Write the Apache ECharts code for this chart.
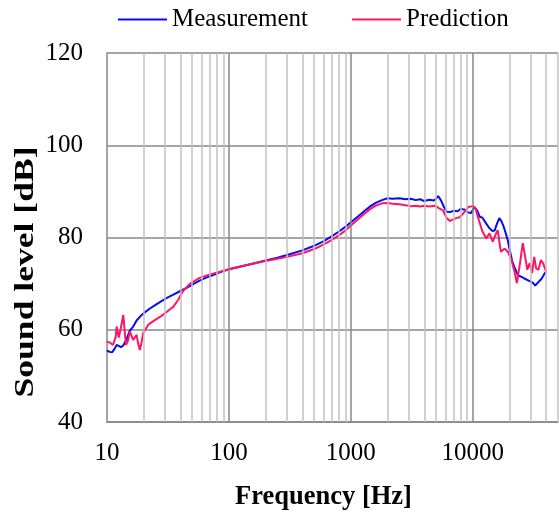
<!DOCTYPE html>
<html>
<head>
<meta charset="utf-8">
<script src="https://cdn.jsdelivr.net/npm/echarts@6/dist/echarts.min.js"></script>
<style>
  html, body { margin: 0; padding: 0; background: #fff; }
  #chart { width: 559px; height: 517px; }
</style>
</head>
<body>
<div id="chart"></div>
<script>
// measured curve
var measFreq = [10, 10.5, 11, 11.5, 12, 12.5, 13, 13.6, 14.5, 15.4, 16.4, 17.5, 18.6, 20, 22.5, 25, 28, 31, 35, 40,
  45, 50, 57, 65, 75, 85, 100, 120, 150, 200, 250, 300, 400, 500, 600, 700, 800, 900, 1000, 1150,
  1300, 1450, 1600, 1800, 2000, 2200, 2500, 2800, 3100, 3400, 3700, 4000, 4400, 4800, 5000, 5200, 5500, 5800, 6100, 6500,
  7000, 7500, 8000, 8600, 9200, 9700, 10300, 10800, 11400, 12000, 12900, 13700, 14500, 15100, 15800, 16500, 17200, 17900, 18600, 19400,
  20200, 21000, 22000, 23500, 25000, 27000, 29000, 31000, 32500, 33500, 35000, 36500, 37700, 39000, 40000];
var measLevel = [55.5, 55.2, 55.1, 55.8, 56.7, 56.5, 56.2, 56.6, 58.0, 59.8, 60.7, 62.0, 62.8, 63.6, 64.6, 65.4, 66.2, 66.9, 67.6, 68.4,
  69.1, 69.8, 70.6, 71.3, 71.9, 72.5, 73.1, 73.6, 74.2, 75.0, 75.6, 76.2, 77.2, 78.2, 79.2, 80.3, 81.3, 82.3, 83.3, 84.6,
  85.8, 86.8, 87.5, 88.1, 88.5, 88.4, 88.5, 88.3, 88.4, 88.1, 88.3, 87.9, 88.2, 88.0, 88.4, 89.0, 88.0, 86.6, 85.6, 85.5,
  85.8, 85.7, 86.2, 86.0, 85.4, 85.3, 86.6, 86.0, 84.5, 84.3, 83.0, 82.0, 81.4, 81.5, 83.0, 84.2, 83.5, 82.4, 81.0, 79.3,
  77.0, 75.0, 73.5, 71.8, 71.5, 71.0, 70.6, 70.2, 69.6, 69.4, 70.5, 71.0, 71.6, 72.3, 72.5];

// predicted curve
var predFreq = [10, 10.6, 11.2, 11.8, 12, 12.5, 13, 13.6, 14.3, 14.8, 15.4, 16.4, 17.5, 18, 18.6, 19.3, 19.8, 21.8, 24.7, 28,
  31, 35, 38.4, 42, 48, 58, 70, 85, 100, 120, 150, 200, 250, 300, 400, 500, 600, 700, 800, 900,
  1000, 1150, 1300, 1450, 1600, 1800, 2000, 2200, 2500, 2800, 3100, 3400, 3700, 4000, 4400, 4800, 5000, 5300, 5700, 6100,
  6500, 7000, 7300, 7800, 8340, 9160, 10070, 10500, 11080, 12000, 12900, 13700, 14600, 15300, 16000, 17000, 18300, 19400, 20800, 22000,
  23000, 24400, 25700, 26900, 28000, 29200, 30600, 31900, 33100, 34600, 36200, 37800, 39400, 40000];
var predLevel = [57.4, 57.2, 56.7, 58.5, 60.7, 58.3, 60.5, 63.2, 56.7, 57.5, 59.6, 57.8, 58.9, 57.0, 55.6, 57.5, 59.3, 61.1, 62.1, 63.0,
  63.9, 65.0, 66.5, 68.4, 70.0, 71.3, 72.0, 72.6, 73.1, 73.6, 74.2, 74.9, 75.4, 75.8, 76.6, 77.5, 78.5, 79.5, 80.5, 81.5,
  82.6, 84.0, 85.2, 86.2, 86.9, 87.4, 87.5, 87.3, 87.2, 87.0, 86.8, 86.9, 86.7, 86.9, 86.7, 86.9, 86.8, 86.3, 85.9, 84.2,
  83.6, 84.0, 84.2, 84.4, 85.2, 86.6, 86.8, 86.4, 84.2, 81.3, 79.8, 80.9, 79.1, 80.5, 81.6, 76.9, 77.6, 76.9, 75.1, 72.6,
  70.1, 74.4, 78.8, 75.8, 73.0, 74.4, 72.3, 75.8, 73.3, 73.0, 75.1, 74.4, 73.0, 72.5];

var majorLines = [100, 1000, 10000];
var minorLines = [20, 30, 40, 50, 60, 70, 80, 90, 200, 300, 400, 500, 600, 700, 800, 900,
  2000, 3000, 4000, 5000, 6000, 7000, 8000, 9000, 20000, 30000, 40000, 50000];
var yTicks = [40, 60, 80, 100, 120];

var FONT = "'Liberation Serif', 'Times New Roman', serif";
var darkGrid = '#878787';
var lightGrid = '#c0c0c0';

function pairs(xs, ys) {
  return xs.map(function (x, i) { return [x, ys[i]]; });
}

var gridMarks = minorLines.map(function (v) {
  return { xAxis: v, lineStyle: { color: lightGrid, width: 1.5, type: 'solid' } };
}).concat(majorLines.map(function (v) {
  return { xAxis: v, lineStyle: { color: darkGrid, width: 1.5, type: 'solid' } };
}));

var chart = echarts.init(document.getElementById('chart'));
chart.setOption({
  animation: false,
  backgroundColor: '#fff',
  textStyle: { fontFamily: FONT },
  legend: {
    data: ['Measurement', 'Prediction'],
    left: 118,
    top: 7,
    padding: 0,
    itemWidth: 49,
    itemHeight: 2,
    itemGap: 44,
    icon: 'rect',
    textStyle: { fontFamily: FONT, fontSize: 25, color: '#000' }
  },
  grid: { left: 107, top: 53, right: 1, bottom: 95 },
  xAxis: {
    type: 'log',
    logBase: 10,
    min: 10,
    max: 50000,
    axisLine: { show: true, lineStyle: { color: darkGrid, width: 1.5 } },
    axisTick: { show: false },
    splitLine: { show: false },
    axisLabel: {
      fontFamily: FONT, fontSize: 25, color: '#000', margin: 19,
      showMaxLabel: false,
      formatter: function (v) {
        return majorLines.concat([10]).indexOf(Math.round(v)) >= 0 ? String(Math.round(v)) : '';
      }
    }
  },
  yAxis: {
    type: 'value',
    min: yTicks[0],
    max: yTicks[yTicks.length - 1],
    interval: 20,
    axisLine: { show: true, lineStyle: { color: darkGrid, width: 1.5 } },
    axisTick: { show: false },
    splitLine: { show: true, lineStyle: { color: darkGrid, width: 1.5 } },
    axisLabel: { fontFamily: FONT, fontSize: 25, color: '#000', margin: 24 }
  },
  graphic: [
    {
      type: 'text', x: 323.5, y: 497,
      style: { text: 'Frequency [Hz]', font: 'bold 26.5px ' + FONT, fill: '#000', align: 'center', verticalAlign: 'middle' }
    },
    {
      type: 'text', x: 26, y: 272, rotation: Math.PI / 2, scaleX: 1.27,
      style: { text: 'Sound level [dB]', font: 'bold 28px ' + FONT, fill: '#000', align: 'center', verticalAlign: 'middle' }
    }
  ],
  series: [
    {
      name: 'grid',
      type: 'line',
      data: [],
      z: 1,
      silent: true,
      markLine: {
        silent: true,
        symbol: ['none', 'none'],
        label: { show: false },
        animation: false,
        data: gridMarks
      }
    },
    {
      name: 'Measurement',
      type: 'line',
      z: 3,
      symbol: 'none',
      color: '#0a0af5',
      lineStyle: { width: 2, color: '#0a0af5' },
      data: pairs(measFreq, measLevel)
    },
    {
      name: 'Prediction',
      type: 'line',
      z: 4,
      symbol: 'none',
      color: '#ff1466',
      lineStyle: { width: 2, color: '#ff1466' },
      data: pairs(predFreq, predLevel)
    }
  ]
});
</script>
</body>
</html>
